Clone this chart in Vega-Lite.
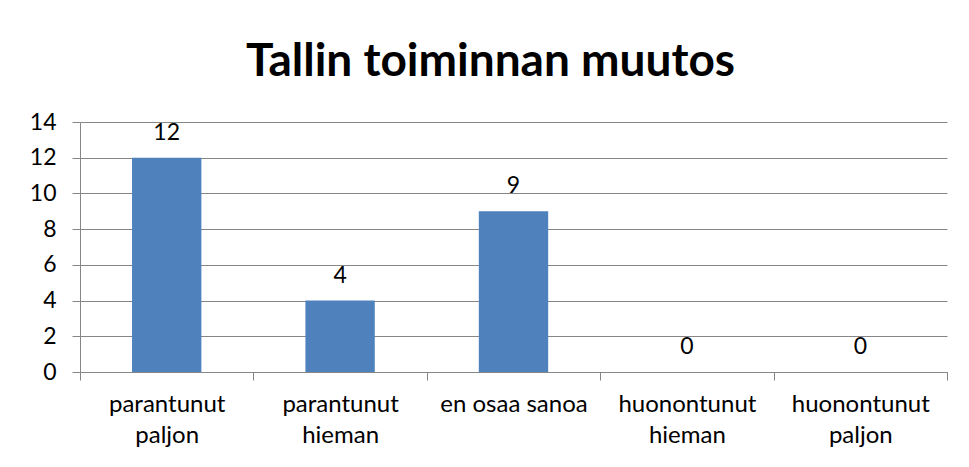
{
  "$schema": "https://vega.github.io/schema/vega-lite/v6.json",
  "width": 867,
  "height": 250,
  "autosize": {"type": "none"},
  "padding": {"left": 80, "top": 122, "right": 22, "bottom": 95},
  "background": "white",
  "title": {
    "text": "Tallin toiminnan muutos",
    "font": "Lato",
    "fontSize": 46,
    "fontWeight": "bold",
    "color": "black",
    "anchor": "middle",
    "frame": "group",
    "baseline": "alphabetic",
    "offset": -11,
    "dx": -23
  },
  "data": {
    "values": [
      {"kategoria": "parantunut paljon", "arvo": 12},
      {"kategoria": "parantunut hieman", "arvo": 4},
      {"kategoria": "en osaa sanoa", "arvo": 9},
      {"kategoria": "huonontunut hieman", "arvo": 0},
      {"kategoria": "huonontunut paljon", "arvo": 0}
    ]
  },
  "encoding": {
    "x": {
      "field": "kategoria",
      "type": "nominal",
      "sort": null,
      "title": null,
      "scale": {"paddingInner": 0, "paddingOuter": 0},
      "axis": {
        "labelAngle": 0,
        "labelExpr": "datum.label == 'en osaa sanoa' ? datum.label : split(datum.label, ' ')",
        "labelFont": "Lato",
        "labelFontSize": 24,
        "labelColor": "black",
        "labelPadding": 12,
        "labelLineHeight": 31,
        "tickBand": "extent",
        "tickSize": 8,
        "tickColor": "#868686",
        "domainColor": "#868686",
        "grid": false
      }
    },
    "y": {
      "field": "arvo",
      "type": "quantitative",
      "title": null,
      "scale": {"domain": [0, 14], "nice": false},
      "axis": {
        "values": [0, 2, 4, 6, 8, 10, 12, 14],
        "labelFont": "Lato",
        "labelFontSize": 23,
        "labelColor": "black",
        "labelPadding": 16,
        "tickSize": 8,
        "tickColor": "#868686",
        "domainColor": "#868686",
        "gridColor": "#868686",
        "grid": true
      }
    }
  },
  "layer": [
    {"mark": {"type": "bar", "color": "#4F81BD", "width": {"band": 0.4}}},
    {
      "mark": {"type": "text", "font": "Lato", "fontSize": 23, "color": "black", "baseline": "middle", "dy": -25},
      "encoding": {"text": {"field": "arvo", "type": "quantitative"}}
    }
  ],
  "config": {"view": {"stroke": null}}
}
